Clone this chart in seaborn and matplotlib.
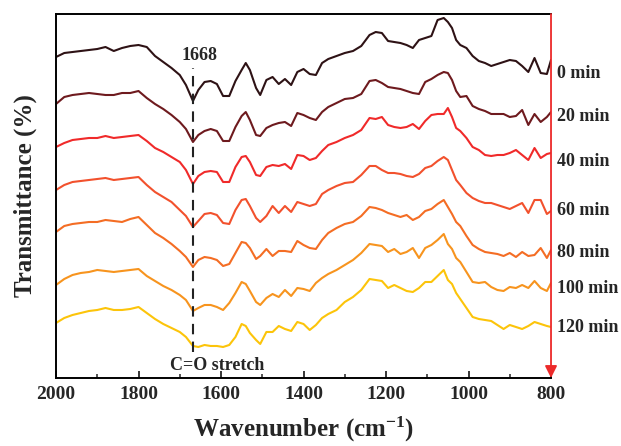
import numpy as np
import pandas as pd
import matplotlib
matplotlib.use("Agg")
import matplotlib.pyplot as plt
import seaborn as sns
from matplotlib.ticker import MultipleLocator

# === Data: FTIR spectra (stacked, arbitrary units) ===
wavenumber = [2000, 1980, 1960, 1940, 1920, 1900, 1880, 1860, 1840, 1820,
              1800, 1780, 1760, 1740, 1720, 1700, 1685, 1668, 1655, 1640,
              1625, 1610, 1595, 1580, 1565, 1550, 1540, 1530, 1515, 1505,
              1490, 1475, 1460, 1445, 1430, 1415, 1400, 1385, 1370, 1355,
              1340, 1320, 1300, 1280, 1260, 1240, 1225, 1210, 1195, 1180,
              1165, 1150, 1135, 1120, 1105, 1090, 1075, 1060, 1050, 1040,
              1030, 1020, 1005, 990, 975, 960, 945, 930, 915, 900,
              885, 870, 855, 840, 825, 810, 800]

t_0 = [323, 327, 328, 329, 330, 331, 333, 329, 332, 334,
       335, 333, 324, 318, 312, 305, 295, 279, 290, 298,
       299, 296, 284, 284, 299, 310, 317, 310, 292, 285,
       300, 303, 296, 301, 295, 308, 311, 306, 305, 317,
       321, 324, 327, 329, 334, 345, 348, 347, 339, 338,
       337, 335, 332, 340, 342, 344, 360, 362, 358, 352,
       340, 335, 332, 324, 319, 317, 314, 316, 318, 320,
       319, 314, 308, 322, 307, 306, 320]
t_20 = [276, 283, 285, 286, 287, 286, 285, 285, 287, 287,
        289, 282, 276, 271, 265, 258, 251, 238, 245, 249,
        251, 249, 239, 239, 253, 264, 268, 260, 245, 244,
        252, 255, 257, 258, 254, 267, 265, 262, 260, 268,
        273, 277, 281, 282, 286, 299, 300, 297, 293, 292,
        291, 289, 287, 286, 298, 301, 305, 308, 307, 300,
        289, 283, 284, 274, 271, 269, 266, 266, 266, 263,
        264, 270, 255, 266, 258, 263, 268]
t_40 = [233, 237, 240, 241, 242, 242, 244, 242, 243, 244,
        245, 239, 232, 228, 223, 218, 210, 196, 204, 208,
        209, 208, 198, 198, 213, 223, 224, 218, 205, 204,
        213, 215, 214, 216, 211, 225, 224, 220, 222, 229,
        235, 238, 242, 245, 250, 262, 261, 263, 255, 253,
        252, 253, 256, 251, 259, 265, 266, 266, 272, 263,
        252, 249, 242, 233, 230, 225, 224, 225, 225, 227,
        230, 225, 220, 232, 222, 226, 227]
t_60 = [190, 195, 198, 199, 200, 201, 202, 200, 201, 202,
        203, 195, 188, 183, 178, 170, 164, 153, 159, 166,
        167, 165, 157, 156, 170, 180, 181, 174, 162, 158,
        164, 174, 167, 174, 168, 178, 176, 174, 176, 186,
        190, 194, 197, 198, 205, 214, 214, 210, 207, 207,
        206, 204, 203, 206, 212, 214, 219, 223, 220, 210,
        200, 195, 187, 182, 179, 177, 177, 175, 173, 171,
        174, 177, 167, 180, 180, 166, 169]
t_80 = [148, 154, 156, 157, 158, 158, 160, 159, 158, 161,
        163, 155, 147, 142, 136, 129, 123, 113, 120, 123,
        122, 120, 114, 116, 127, 138, 137, 132, 121, 124,
        131, 124, 129, 129, 128, 139, 135, 132, 131, 140,
        147, 152, 156, 158, 164, 173, 172, 170, 167, 165,
        163, 165, 160, 163, 169, 171, 176, 180, 173, 166,
        158, 154, 144, 135, 131, 128, 127, 126, 124, 127,
        123, 128, 124, 125, 132, 122, 130]
t_100 = [95, 101, 105, 107, 108, 110, 109, 108, 109, 110,
         111, 104, 99, 94, 90, 85, 80, 69, 72, 75,
         75, 73, 70, 77, 87, 98, 96, 89, 78, 75,
         82, 86, 83, 90, 84, 92, 91, 89, 97, 102,
         106, 110, 115, 120, 127, 136, 135, 134, 128, 131,
         126, 128, 132, 122, 132, 135, 140, 146, 136, 131,
         122, 118, 108, 98, 97, 98, 93, 90, 89, 93,
         92, 95, 92, 99, 92, 89, 97]
t_120 = [57, 62, 65, 67, 69, 70, 72, 70, 70, 71,
         73, 67, 61, 56, 52, 48, 43, 34, 33, 35,
         34, 34, 33, 35, 43, 56, 54, 47, 40, 36,
         48, 48, 54, 51, 49, 58, 56, 50, 55, 62,
         66, 70, 78, 83, 90, 101, 100, 99, 92, 95,
         92, 89, 88, 92, 98, 98, 104, 110, 100, 96,
         87, 81, 72, 63, 61, 60, 59, 55, 51, 55,
         53, 51, 54, 58, 56, 54, 53]

times = ["0 min", "20 min", "40 min", "60 min", "80 min", "100 min", "120 min"]
spectra = [t_0, t_20, t_40, t_60, t_80, t_100, t_120]
colors = ["#2e1215", "#6e1a1e", "#f02a2a", "#f2512d", "#f46d24", "#f7941e", "#fcc40a"]
label_y = [307, 263, 218, 169, 127, 91, 52]

df = pd.concat([pd.DataFrame({"wavenumber": wavenumber, "T": s, "time": t})
                for t, s in zip(times, spectra)], ignore_index=True)

# === Style ===
sns.set_style("white")
plt.rcParams['font.family'] = ['Liberation Serif', 'DejaVu Serif']
plt.rcParams['font.weight'] = 'bold'
plt.rcParams['mathtext.fontset'] = 'custom'
plt.rcParams['mathtext.rm'] = 'Liberation Serif:bold'
plt.rcParams['mathtext.bf'] = 'Liberation Serif:bold'
plt.rcParams['mathtext.default'] = 'bf'

fig = plt.figure(figsize=(6.21, 4.46), dpi=100)
ax = fig.add_axes([0.0902, 0.1525, 0.7971, 0.8161])

sns.lineplot(data=df, x="wavenumber", y="T", hue="time", hue_order=times,
             palette=colors, legend=False, linewidth=1.5, errorbar=None, ax=ax)

ax.set_xlim(2000, 800)
ax.set_ylim(2, 366)
ax.xaxis.set_major_locator(MultipleLocator(200))
ax.xaxis.set_minor_locator(MultipleLocator(100))
ax.tick_params(axis='x', which='major', direction='in', length=5, width=1.3,
               labelsize=14, pad=6, bottom=True)
ax.tick_params(axis='x', which='minor', direction='in', length=3, width=1.1, bottom=True)
ax.set_yticks([])
for lab in ax.get_xticklabels():
    lab.set_fontweight('bold')

for side in ['left', 'top', 'bottom']:
    ax.spines[side].set_color('black')
    ax.spines[side].set_linewidth(1.4)
ax.spines['right'].set_visible(False)
ax.annotate('', xy=(1, 0), xytext=(1, 1), xycoords='axes fraction',
            arrowprops=dict(arrowstyle='-|>', color='#ec2a2a', lw=1.3,
                            mutation_scale=18, shrinkA=0, shrinkB=0))

# C=O marker
ax.plot([1668, 1668], [28, 312], color='#222222', lw=1.5, dashes=(5, 3.5))
ax.text(1651, 325, "1668", ha='center', va='center', fontsize=13, fontweight='bold')
ax.text(1610, 14, "C=O stretch", ha='center', va='center', fontsize=13, fontweight='bold')

for t, y in zip(times, label_y):
    ax.text(786, y, t, ha='left', va='center', fontsize=13, fontweight='bold', clip_on=False)

ax.set_xlabel(r"Wavenumber (cm$^{-1}$)", fontsize=18, fontweight='bold', labelpad=8)
ax.set_ylabel("Transmittance (%)", fontsize=18, fontweight='bold', labelpad=14)

fig.savefig("out.png", dpi=100)
